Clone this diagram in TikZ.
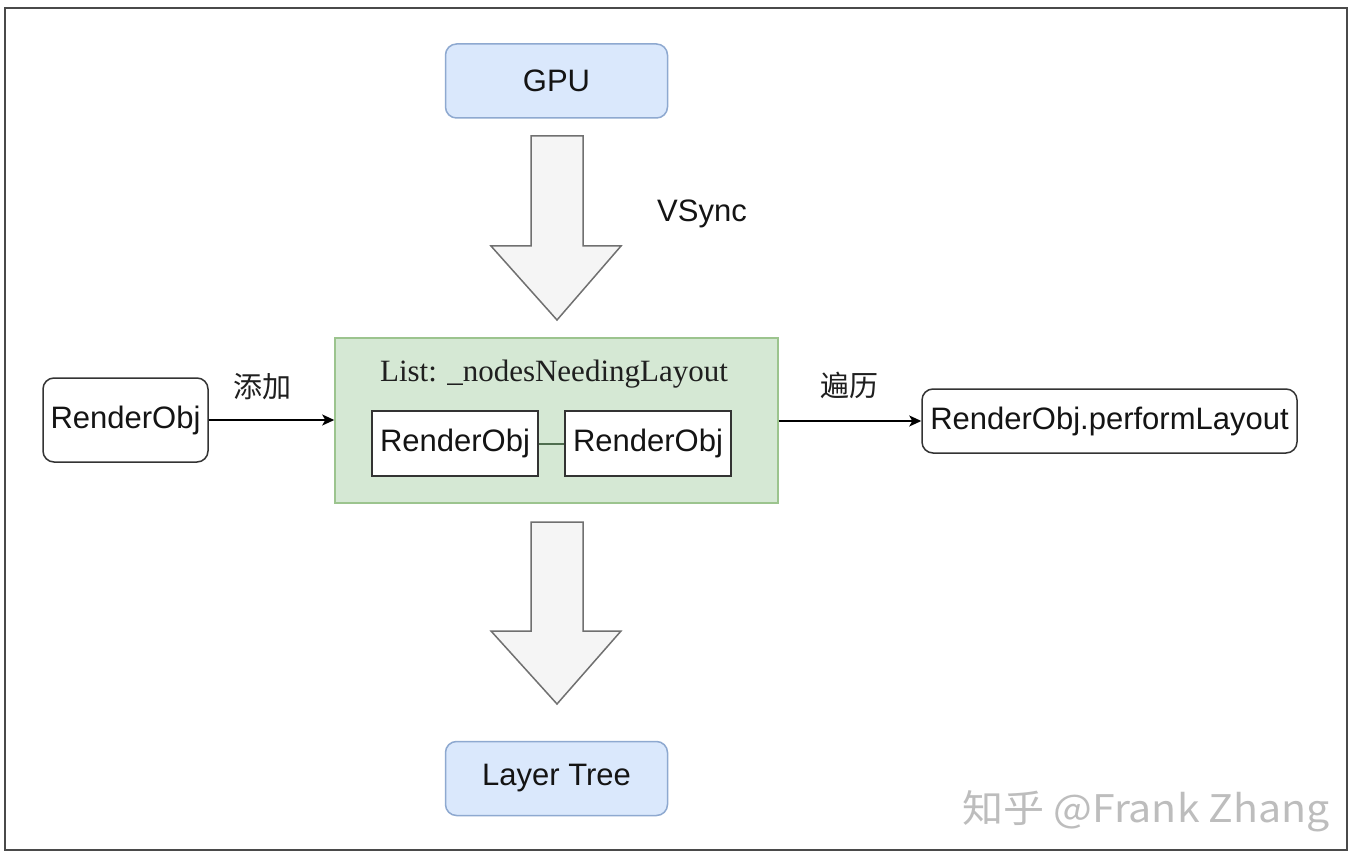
\documentclass[tikz,border=0pt]{standalone}
\usepackage{fontspec}
\setmainfont{Liberation Sans}
\newfontfamily\serifface{Liberation Serif}
\newfontfamily\cjk{Noto Sans CJK SC}
\usetikzlibrary{arrows.meta}
\definecolor{bluefill}{HTML}{DAE8FC}
\definecolor{bluedraw}{HTML}{8EA9D0}
\definecolor{greenfill}{HTML}{D5E8D4}
\definecolor{greendraw}{HTML}{9CC48E}
\definecolor{arrowfill}{HTML}{F5F5F5}
\definecolor{arrowdraw}{HTML}{707070}
\definecolor{framedraw}{HTML}{4A4A4A}
\definecolor{linkgreen}{HTML}{4F6E4F}
\begin{document}
\begin{tikzpicture}[x=1pt,y=-1pt,
  lbl/.style={font=\fontsize{31}{37}\selectfont, text=black!92, inner sep=0pt},
  cjklbl/.style={font=\cjk\fontsize{29}{35}\selectfont, text=black!88, inner sep=0pt},
  bluebox/.style={draw=bluedraw, fill=bluefill, line width=1.5pt, rounded corners=11pt,
    minimum width=222pt, minimum height=74pt, lbl},
  whitebox/.style={draw=black!80, fill=white, line width=1.5pt, rounded corners=11pt, lbl},
  innerbox/.style={draw=black!80, fill=white, line width=1.5pt, minimum width=166pt, minimum height=65pt, lbl},
  bigarrow/.style={draw=arrowdraw, fill=arrowfill, line width=1.5pt, line join=miter},
  flow/.style={draw=black, line width=1.5pt, -{Stealth[length=12pt,width=11pt,inset=3pt]}}
]
\useasboundingbox (0,0) rectangle (1354,858);
\fill[white] (0,0) rectangle (1354,858);
\draw[framedraw, line width=2.2pt] (5,8) rectangle (1347,850);

% nodes
\node[bluebox, text height=22pt, text depth=0pt] (gpu) at (556.5,81) {GPU};
\node[bluebox] (layer) at (556.5,778.5) {\raisebox{-2pt}{Layer Tree}};
\node[draw=greendraw, fill=greenfill, line width=1.5pt, minimum width=443pt, minimum height=165pt, inner sep=0pt] (list) at (556.5,420.5) {};
\node[font=\serifface\fontsize{31}{37}\selectfont, text=black!88, inner sep=0pt] (title) at (554,374) {List: \_nodesNeedingLayout};
\node[innerbox] (ro1) at (455,443.5) {RenderObj};
\node[innerbox] (ro2) at (648,443.5) {RenderObj};
\draw[linkgreen, line width=2pt] (ro1.east) -- (ro2.west);
\node[whitebox, minimum width=165pt, minimum height=84pt] (src) at (125.5,420) {RenderObj};
\node[whitebox, minimum width=375pt, minimum height=64pt] (dst) at (1109.5,421) {RenderObj.performLayout};

% flows
\draw[flow] (src.east) -- (list.west |- src.east);
\draw[flow] (list.east |- dst.west) -- (dst.west);
\node[cjklbl] (add) at (262,387) {添加};
\node[cjklbl] (walk) at (849,385) {遍历};

% big arrows
\draw[bigarrow] (531,136) -- (583,136) -- (583,246) -- (621,246) -- (557,320) -- (491,246) -- (531,246) -- cycle;
\node[lbl] (vsync) at (702,214) {VSync};
\draw[bigarrow] (531,522) -- (583,522) -- (583,631) -- (621,631) -- (557,704) -- (491,631) -- (531,631) -- cycle;

% watermark
\node[font=\cjk\fontsize{38}{42}\selectfont, text=black!26, inner sep=0pt, anchor=west, xscale=1.08] (wm) at (962,811) {知乎 @Frank Zhang};
\end{tikzpicture}
\end{document}
